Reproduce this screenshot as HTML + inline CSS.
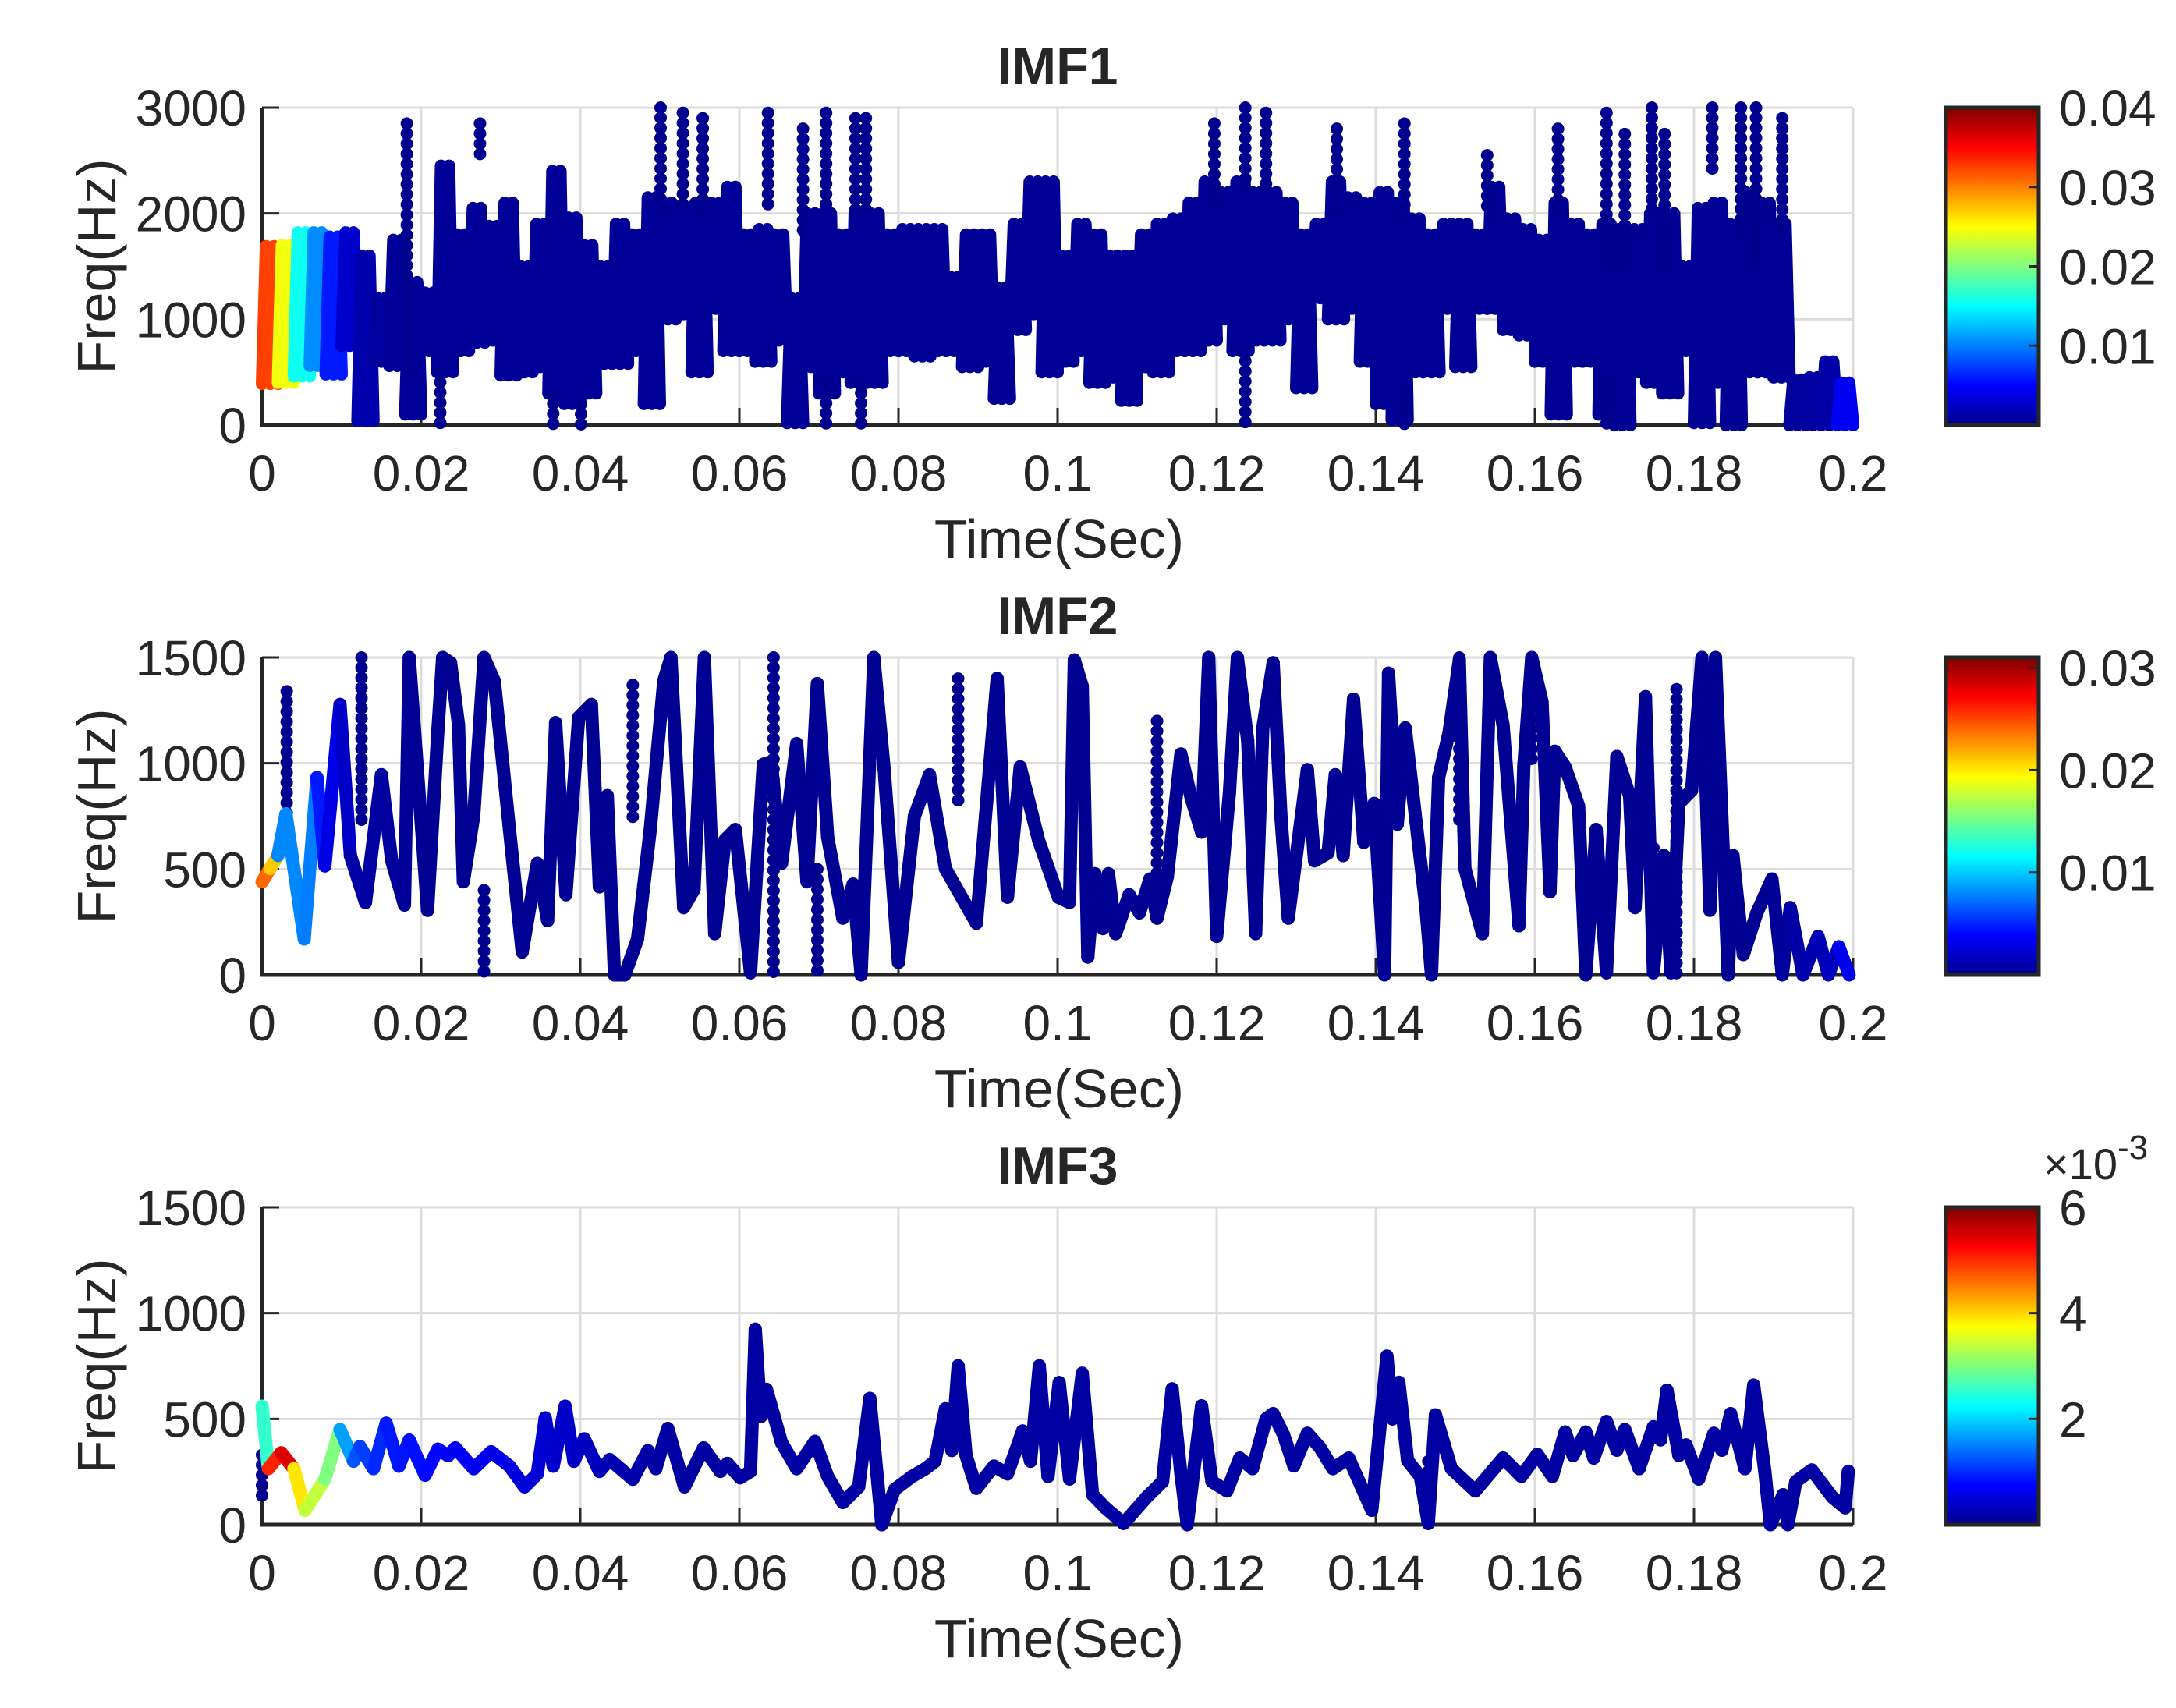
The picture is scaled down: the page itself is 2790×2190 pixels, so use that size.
<!DOCTYPE html>
<html><head><meta charset="utf-8"><style>
html,body{margin:0;padding:0;background:#fff;}
svg{display:block;}
text{font-family:"Liberation Sans",Arial,sans-serif;fill:#262626;}
</style></head><body>
<svg id="fig" width="2790" height="2190" viewBox="0 0 2790 2190" xmlns="http://www.w3.org/2000/svg">
<defs>
<linearGradient id="jet" x1="0" y1="1" x2="0" y2="0">
<stop offset="0" stop-color="#00008f"/><stop offset="0.125" stop-color="#0000ff"/><stop offset="0.375" stop-color="#00ffff"/><stop offset="0.625" stop-color="#ffff00"/><stop offset="0.875" stop-color="#ff0000"/><stop offset="1" stop-color="#800000"/>
</linearGradient>
</defs>
<g id="root"></g>
</svg>
<script>
// ---------- IMF1 data (band of fast oscillation per 0.002 s bin) ----------
const imf1BinT = [0,0.002,0.004,0.006,0.008,0.010,0.012,0.014,0.016,0.018,0.020,0.022,0.024,0.026,0.028,0.030,0.032,0.034,0.036,0.038,0.040,0.042,0.044,0.046,0.048,0.050,0.052,0.054,0.056,0.058,0.060,0.062,0.064,0.066,0.068,0.070,0.072,0.074,0.076,0.078,0.080,0.082,0.084,0.086,0.088,0.090,0.092,0.094,0.096,0.098,
0.100,0.102,0.104,0.106,0.108,0.110,0.112,0.114,0.116,0.118,0.120,0.122,0.124,0.126,0.128,0.130,0.132,0.134,0.136,0.138,0.140,0.142,0.144,0.146,0.148,0.150,0.152,0.154,0.156,0.158,0.160,0.162,0.164,0.166,0.168,0.170,0.172,0.174,0.176,0.178,0.180,0.182,0.184,0.186,0.188,0.190,0.192,0.194,0.196,0.198];
const imf1Hi = [1690,1700,1820,1820,1780,1820,1600,1200,1750,1350,1250,2450,1800,2050,1880,2100,1500,1900,2400,1960,1700,1500,1900,1800,2150,2100,2000,2100,2100,2250,1800,1850,1800,1200,2000,2000,1800,2000,2000,1800,1850,1850,1850,1400,1800,1800,1300,1900,2300,2300,
1600,1900,1800,1600,1600,1800,1900,1950,2100,2300,2200,2300,2200,2200,2100,1800,1900,2300,2150,2100,2200,2100,1950,1800,1900,1900,1800,2250,1950,1850,1750,2100,1900,1800,1900,1850,1850,2000,2000,1500,2050,2100,1900,2200,2100,1900,430,450,600,400];
const imf1Lo = [390,400,460,560,480,750,40,600,560,100,700,500,700,780,800,470,500,550,300,200,300,580,580,700,200,1000,1050,500,1100,700,700,600,800,20,550,300,500,400,400,700,700,650,700,700,550,600,250,900,1050,500,
600,700,400,450,230,550,500,700,700,800,1000,700,800,800,1000,350,1200,1000,1100,600,200,50,500,500,1100,550,1100,1100,900,850,600,100,600,600,100,0,500,400,300,700,20,400,0,500,500,450,0,0,0,0];
const imf1AmpT = [0,0.002,0.004,0.006,0.008,0.010,0.012,0.016,0.190,0.197,0.200];
const imf1AmpV = [0.034,0.031,0.018,0.013,0.008,0.004,0.002,0.001,0.0008,0.0015,0.006];
// dotted spike columns: time, lower freq, upper freq
const imf1SpikeT  = [0.0182,0.0224,0.0274,0.0366,0.0401,0.0501,0.0529,0.0554,0.0636,0.0680,0.0709,0.0709,0.0746,0.0753,0.0759,0.1197,0.1236,0.1236,0.1262,0.1351,0.1436,0.1436,0.1540,0.1629,0.1690,0.1690,0.1713,0.1747,0.1763,0.1823,0.1859,0.1878,0.1911];
const imf1SpikeLo = [500,0,2550,0,0,2000,2000,2000,2000,1800,2000,0,2000,0,2000,2000,2200,0,2200,2000,2000,0,2000,2000,1500,0,1500,2000,1500,2400,1800,1500,1800];
const imf1SpikeHi = [2850,500,2850,300,200,3000,2950,2900,2950,2800,2950,400,2900,400,2900,2850,3000,700,2950,2800,2850,300,2550,2800,2950,400,2750,3000,2750,3000,3000,3000,2900];

// ---------- IMF2 data ----------
const imf2T = [0,0.001,0.002,0.003,0.0053,0.0069,0.0079,0.0098,0.0111,0.0130,0.0150,0.0163,0.0179,0.0185,0.0208,0.0221,0.0227,0.0237,0.0247,0.0253,0.0266,0.0279,0.0292,0.0311,0.0327,0.0346,0.0359,0.0369,0.0382,0.0398,0.0414,0.0424,0.0434,0.0443,0.0456,0.0472,0.0488,0.0505,0.0514,0.0530,0.0543,0.0556,0.0569,0.0582,0.0595,0.0614,0.0630,0.0640,0.0653,0.0672,0.0685,0.0698,0.0711,0.0730,0.0743,0.0753,0.0769,0.0782,0.0800,0.0820,0.0839,0.0859,0.0898,0.0924,0.0937,0.0953,0.0976,0.1001,
0.1015,0.1021,0.1031,0.1038,0.1047,0.1057,0.1064,0.1073,0.1090,0.1103,0.1116,0.1125,0.1138,0.1155,0.1168,0.1181,0.1190,0.1200,0.1216,0.1226,0.1239,0.1249,0.1258,0.1271,0.1281,0.1290,0.1314,0.1323,0.1340,0.1349,0.1359,0.1372,0.1385,0.1398,0.1411,0.1416,0.1427,0.1437,0.1463,0.1470,0.1479,0.1492,0.1505,0.1512,0.1534,0.1544,0.1560,0.1580,0.1586,0.1596,0.1609,0.1619,0.1625,0.1638,0.1655,0.1664,0.1677,0.1690,0.1703,0.1719,0.1726,0.1739,0.1749,0.1762,0.1771,0.1781,0.1797,0.1810,0.1820,0.1827,0.1843,0.1849,0.1862,0.1879,0.1898,0.1911,0.1921,0.1937,0.1956,0.1969,0.1982,0.1995];
const imf2F = [440,502,564,761,170,933,515,1278,564,342,946,539,330,1500,305,1155,1500,1475,1180,440,749,1500,1389,687,108,527,256,1192,379,1217,1278,416,847,0,0,170,687,1389,1500,318,404,1500,195,638,687,10,995,1007,527,1093,440,1377,650,268,429,0,1500,970,59,749,946,502,244,1401,367,983,638,367,
342,1488,1364,84,478,219,478,195,379,293,453,268,465,1044,835,675,1500,182,860,1500,1106,195,1167,1475,736,268,970,539,576,946,564,1303,626,810,0,1426,712,1167,318,0,933,1143,1488,502,195,1500,1180,232,983,1500,1290,392,1057,983,798,0,687,10,1032,847,318,1315,10,564,10,810,872,1500,305,1500,0,564,96,293,453,0,318,0,182,0,133,0];
const imf2AmpT = [0,0.001,0.002,0.003,0.005,0.007,0.009,0.012,0.020,0.190,0.198,0.200];
const imf2AmpV = [0.018,0.030,0.012,0.004,0.011,0.005,0.003,0.0012,0.0006,0.0006,0.002,0.005];
const imf2SpikeT  = [0.0031,0.0125,0.0279,0.0466,0.0643,0.0698,0.0875,0.1125,0.1190,0.1505,0.1596,0.1778,0.1749,0.1771];
const imf2SpikeLo = [600,700,0,700,0,0,800,300,800,700,1000,0,0,0];
const imf2SpikeHi = [1340,1500,400,1370,1500,500,1400,1200,1500,1500,1500,1350,600,500];

// ---------- IMF3 data ----------
const imf3T = [0,0.0008,0.0024,0.004,0.0054,0.0079,0.0098,0.0115,0.0123,0.014,0.0156,0.0172,0.0185,0.0205,0.0221,0.0234,0.0243,0.0266,0.0288,0.0311,0.033,0.0346,0.0356,0.0366,0.0381,0.0392,0.0405,0.0424,0.0437,0.0466,0.0485,0.0495,0.051,0.0531,0.0555,0.0576,0.0585,0.0601,0.0614,0.062,0.0627,0.0634,0.0653,0.0672,0.0695,0.0711,0.073,0.075,0.0764,0.0779,0.0795,0.0817,0.0834,0.0846,0.0859,0.0867,0.0875,0.0885,0.0898,0.092,0.0937,0.0956,0.0966,0.0977,0.0988,0.1002,
0.1015,0.1031,0.1044,0.106,0.1083,0.1112,0.1132,0.1144,0.1155,0.1163,0.1181,0.1194,0.1213,0.1229,0.1245,0.1262,0.1271,0.1284,0.1297,0.1314,0.133,0.1346,0.1366,0.1395,0.1414,0.1421,0.1429,0.144,0.1456,0.1466,0.1475,0.1495,0.1525,0.156,0.1583,0.1603,0.1622,0.1638,0.1648,0.1664,0.1674,0.169,0.1703,0.1713,0.1731,0.1749,0.1758,0.1766,0.1781,0.179,0.1806,0.1825,0.1835,0.1846,0.1864,0.1875,0.1889,0.1896,0.1912,0.1918,0.1928,0.1948,0.1974,0.199,0.1994];
const imf3F = [560,265,340,265,68,215,450,300,370,265,480,277,400,234,357,326,363,265,345,277,179,240,505,277,560,300,406,252,308,215,350,265,455,179,363,252,290,222,252,924,511,640,388,265,394,228,105,179,597,0,166,228,265,300,548,351,751,326,172,277,240,443,300,751,228,672,
216,716,142,80,6,130,204,642,241,0,562,204,160,315,265,500,525,426,278,432,364,265,315,68,797,500,673,303,228,6,519,265,160,315,228,333,228,438,327,438,315,488,352,450,265,463,401,636,327,377,216,432,352,525,265,660,253,0,142,0,204,259,130,80,253];
const imf3AmpT = [0,0.0008,0.0024,0.004,0.0054,0.0079,0.0098,0.012,0.016,0.030,0.050,0.200];
const imf3AmpV = [0.0009,0.0042,0.0059,0.0050,0.0028,0.0040,0.0020,0.0012,0.0009,0.0006,0.0002,0.0002];
const imf3SpikeT  = [0.0,0.1466];
const imf3SpikeLo = [100,0];
const imf3SpikeHi = [330,300];

// ---------- axes config ----------
const xTicks = [0,0.02,0.04,0.06,0.08,0.1,0.12,0.14,0.16,0.18,0.2];
const xTickLabels = ["0","0.02","0.04","0.06","0.08","0.1","0.12","0.14","0.16","0.18","0.2"];
const yTicks1 = [0,1000,2000,3000];
const yTicks23 = [0,500,1000,1500];
const cbTicks1 = [0.01,0.02,0.03,0.04];
const cbTicks2 = [0.01,0.02,0.03];
const cbTicks3 = [0.002,0.004,0.006];
const cbTickLabels3 = ["2","4","6"];

const NS = "http://www.w3.org/2000/svg";
const root = document.getElementById('root');
const X0 = 336, XW = 2040, PH = 407;
const panelTops = [138, 843, 1548];

function el(tag, attrs, parent){
  const e = document.createElementNS(NS, tag);
  for (const k in attrs) e.setAttribute(k, attrs[k]);
  (parent||root).appendChild(e);
  return e;
}
function xs(t){ return X0 + t/0.2*XW; }
function makeY(top, fmax){ return f => top + PH - f/fmax*PH; }
function jet(v){
  v = Math.max(0, Math.min(1, v));
  const c = x => Math.round(255*Math.max(0, Math.min(1, x)));
  return `rgb(${c(1.5-Math.abs(4*v-3))},${c(1.5-Math.abs(4*v-2))},${c(1.5-Math.abs(4*v-1))})`;
}
function ampAt(t, AT, AV){
  if (t <= AT[0]) return AV[0];
  for (let i=1;i<AT.length;i++){
    if (t <= AT[i]){ const r=(t-AT[i-1])/(AT[i]-AT[i-1]); return AV[i-1]+r*(AV[i]-AV[i-1]); }
  }
  return AV[AV.length-1];
}

function drawAxes(p, top, fmax, yTicks, title){
  const g = el('g', {});
  
  
  const y = makeY(top, fmax);
  xTicks.forEach(t => {
    const l = el('line', {x1:xs(t), x2:xs(t), y1:top, y2:top+PH, stroke:'#dcdcdc', 'stroke-width':3}, g);
    
    
  });
  yTicks.forEach(f => {
    const l = el('line', {x1:X0, x2:X0+XW, y1:y(f), y2:y(f), stroke:'#dcdcdc', 'stroke-width':3}, g);
    
    
  });
  const ax = el('line', {x1:X0-2, x2:X0+XW, y1:top+PH, y2:top+PH, stroke:'#262626', 'stroke-width':5}, g);
  
  
  const ay = el('line', {x1:X0, x2:X0, y1:top, y2:top+PH+2, stroke:'#262626', 'stroke-width':5}, g);
  
  
  xTicks.forEach((t,i) => {
    el('line', {x1:xs(t), x2:xs(t), y1:top+PH, y2:top+PH-22, stroke:'#262626', 'stroke-width':3}, g);
    const tx = el('text', {x:xs(t), y:top+PH+84, 'font-size':64, 'text-anchor':'middle'}, g);
    tx.textContent = xTickLabels[i];
    
    
  });
  yTicks.forEach(f => {
    el('line', {x1:X0, x2:X0+22, y1:y(f), y2:y(f), stroke:'#262626', 'stroke-width':3}, g);
    const tx = el('text', {x:316, y:y(f)+23, 'font-size':64, 'text-anchor':'end'}, g);
    tx.textContent = String(f);
    
    
  });
  const tt = el('text', {x:1356, y:top-30, 'font-size':68, 'font-weight':'bold', 'text-anchor':'middle'}, g);
  tt.textContent = title;
  
  
  const xl = el('text', {x:1358, y:top+PH+170, 'font-size':70, 'text-anchor':'middle'}, g);
  xl.textContent = 'Time(Sec)';
  
  
  const yl = el('text', {x:0, y:0, 'font-size':70, 'text-anchor':'middle', transform:`translate(148,${top+PH/2}) rotate(-90)`}, g);
  yl.textContent = 'Freq(Hz)';
  
  
  return y;
}

function drawColorbar(p, top, cmax, ticks, labels){
  const g = el('g', {});
  
  
  const r = el('rect', {x:2495, y:top, width:119, height:PH, fill:'url(#jet)', stroke:'#262626', 'stroke-width':5}, g);
  
  
  ticks.forEach((v,i) => {
    const yy = top + PH - v/cmax*PH;
    el('line', {x1:2614, x2:2601, y1:yy, y2:yy, stroke:'#262626', 'stroke-width':3}, g);
    const tx = el('text', {x:2640, y:yy+23, 'font-size':64}, g);
    tx.textContent = labels ? labels[i] : String(v);
    
    
  });
}

function drawSpikes(name, y, T, Lo, Hi, color){
  const g = el('g', {fill:color});
  
  
  for (let i=0;i<T.length;i++){
    const x = xs(T[i]);
    const y1 = y(Hi[i]), y0 = y(Lo[i]);
    for (let yy=y1; yy<=y0+0.1; yy+=13){
      const c = el('circle', {cx:x, cy:yy, r:8}, g);
      
      
    }
  }
}

function drawLine(name, y, T, F, AT, AV, cmax){
  const g = el('g', {'stroke-width':17, 'stroke-linecap':'round', fill:'none'});
  
  
  for (let i=1;i<T.length;i++){
    const tm = (T[i-1]+T[i])/2;
    const s = el('line', {x1:xs(T[i-1]), y1:y(F[i-1]), x2:xs(T[i]), y2:y(F[i]), stroke:jet(ampAt(tm,AT,AV)/cmax)}, g);
    
    
  }
}

function drawBand(name, y, BT, Hi, Lo, AT, AV, cmax){
  const g = el('g', {'stroke-width':16, 'stroke-linecap':'round', 'stroke-linejoin':'round', fill:'none'});
  
  
  const bw = 0.002, n = 4;
  for (let i=0;i<BT.length;i++){
    let d = '';
    for (let k=0;k<=n;k++){
      const t = Math.min(0.2, BT[i] + bw*k/n);
      const f = (k%2===0) ? Lo[i] : Hi[i];
      d += (k===0?'M':'L') + xs(t).toFixed(1) + ' ' + y(f).toFixed(1) + ' ';
    }
    const pth = el('path', {d:d, stroke:jet(ampAt(BT[i]+bw/2,AT,AV)/cmax)}, g);
    
    
  }
}

// Panel 1
const y1 = drawAxes(0, panelTops[0], 3000, yTicks1, 'IMF1');
drawBand('imf1-trace', y1, imf1BinT, imf1Hi, imf1Lo, imf1AmpT, imf1AmpV, 0.04);
drawSpikes('imf1-spikes', y1, imf1SpikeT, imf1SpikeLo, imf1SpikeHi, '#00008f');
drawColorbar(0, panelTops[0], 0.04, cbTicks1);

// Panel 2
const y2 = drawAxes(1, panelTops[1], 1500, yTicks23, 'IMF2');
drawSpikes('imf2-spikes', y2, imf2SpikeT, imf2SpikeLo, imf2SpikeHi, '#00008f');
drawLine('imf2-trace', y2, imf2T, imf2F, imf2AmpT, imf2AmpV, 0.031);
drawColorbar(1, panelTops[1], 0.031, cbTicks2);

// Panel 3
const y3 = drawAxes(2, panelTops[2], 1500, yTicks23, 'IMF3');
drawSpikes('imf3-spikes', y3, imf3SpikeT, imf3SpikeLo, imf3SpikeHi, '#00008f');
drawLine('imf3-trace', y3, imf3T, imf3F, imf3AmpT, imf3AmpV, 0.006);
drawColorbar(2, panelTops[2], 0.006, cbTicks3, cbTickLabels3);

const ex = el('text', {x:2620, y:1512, 'font-size':56});


ex.innerHTML = '×10<tspan dy="-26" font-size="44">-3</tspan>';
</script>
</body></html>
